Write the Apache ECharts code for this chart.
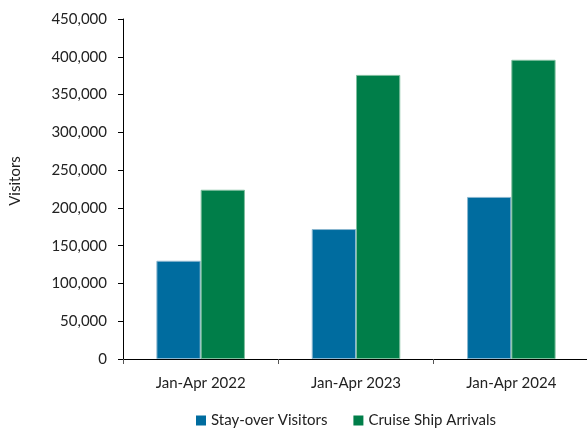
<!DOCTYPE html>
<html><head><meta charset="utf-8">
<script src="https://cdn.jsdelivr.net/npm/echarts@6/dist/echarts.min.js"></script>
<style>html,body{margin:0;padding:0;background:#fff}#c{width:587px;height:429px}</style>
</head><body><div id="c"></div>
<script>
const categories = ['Jan-Apr 2022', 'Jan-Apr 2023', 'Jan-Apr 2024'];
const stayOver = [130000, 172000, 214500];
const cruise = [224000, 376000, 396000];
const seriesNames = ['Stay-over Visitors', 'Cruise Ship Arrivals'];
const yTitle = 'Visitors';

const font = 'Lato';
const chart = echarts.init(document.getElementById('c'), null, {renderer: 'canvas'});
chart.setOption({
  animation: false,
  textStyle: {fontFamily: font},
  grid: {left: 123, top: 19, width: 466, height: 340, containLabel: false, outerBoundsMode: 'none'},
  legend: {
    top: 413, left: 196, itemWidth: 10, itemHeight: 10, itemGap: 26,
    icon: 'rect', padding: 0,
    itemStyle: {borderWidth: 0},
    textStyle: {fontFamily: font, fontSize: 15, color: '#222'},
    data: seriesNames
  },
  graphic: [{
    type: 'text', x: 15, y: 181, rotation: Math.PI / 2,
    style: {text: yTitle, font: '15px Lato', fill: '#222', textAlign: 'center', textVerticalAlign: 'middle'}
  }],
  xAxis: {
    type: 'category', data: categories,
    axisLine: {lineStyle: {color: '#000', width: 1}},
    axisTick: {show: true, length: 5, lineStyle: {color: '#555'}},
    axisLabel: {fontFamily: font, fontSize: 15, color: '#222', margin: 17}
  },
  yAxis: {
    type: 'value', min: 0, max: 450000, interval: 50000,
    axisLine: {show: true, lineStyle: {color: '#000', width: 1}},
    axisTick: {show: true, length: 5, inside: false, lineStyle: {color: '#000'}},
    splitLine: {show: false},
    axisLabel: {fontFamily: font, fontSize: 15, color: '#222', margin: 16,
      formatter: v => v.toLocaleString('en-US')}
  },
  series: [
    {name: seriesNames[0], type: 'bar', data: stayOver, barGap: '0%', barCategoryGap: '43%',
      itemStyle: {color: '#006C9F', borderColor: '#8ab7d0', borderWidth: 1}},
    {name: seriesNames[1], type: 'bar', data: cruise, barGap: '0%', barCategoryGap: '43%',
      itemStyle: {color: '#007E49', borderColor: '#7fbf9f', borderWidth: 1}}
  ]
});
</script></body></html>
